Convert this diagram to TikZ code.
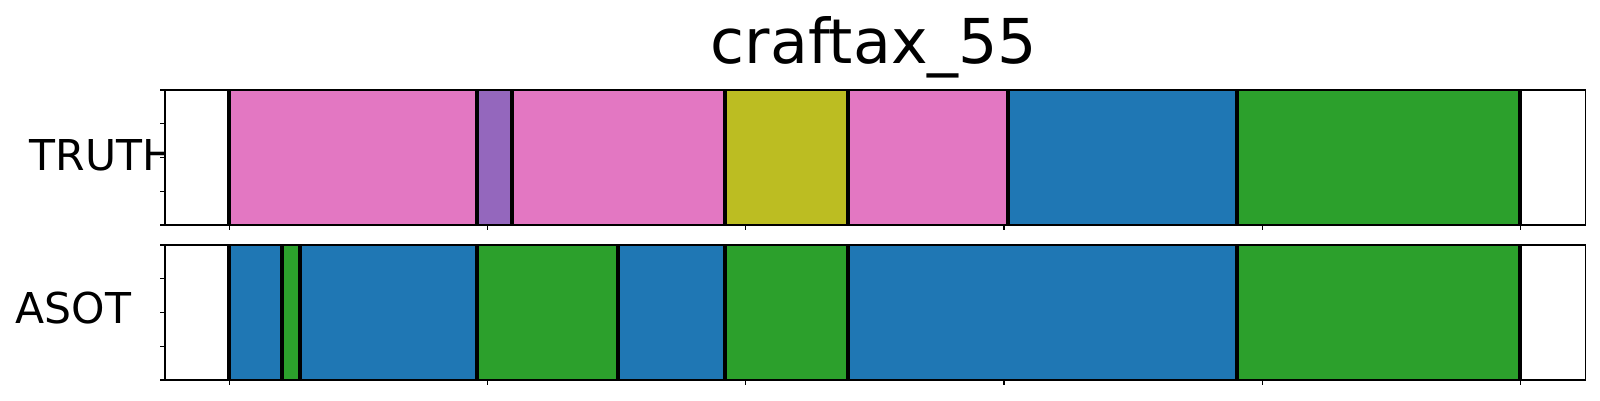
\documentclass[tikz,border=0pt]{standalone}
\usepackage{fontspec}
\setmainfont{DejaVu Sans}

\definecolor{tabpink}{HTML}{E377C2}
\definecolor{tabpurple}{HTML}{9467BD}
\definecolor{tabolive}{HTML}{BCBD22}
\definecolor{tabblue}{HTML}{1F77B4}
\definecolor{tabgreen}{HTML}{2CA02C}

\tikzset{
  heading/.style={font=\fontsize{17.6pt}{20pt}\selectfont, inner sep=0pt, anchor=base},
  rowlabel/.style={font=\fontsize{12.1pt}{14pt}\selectfont, inner sep=0pt, anchor=base west},
  bound/.style={line width=0.04cm, black},
  frame/.style={line width=0.015cm, black},
  tickmark/.style={line width=0.012cm, black},
}

\begin{document}
\begin{tikzpicture}[x=0.1mm,y=-0.1mm]

      \useasboundingbox (0,0) rectangle (1600,400);

      \node[heading]  (title) at (874,63)  {craftax\_55};
      \node[rowlabel] (truth) at (29,170)  {TRUTH};
      \node[rowlabel] (asot)  at (15,323)  {ASOT};

      % axes backgrounds
      \fill[white] (165,90)  rectangle (1585.7,225);
      \fill[white] (165,245) rectangle (1585.7,380);

      % TRUTH segments
      \fill[tabpink]   (228.5,90)  rectangle (476.8,225);
      \fill[tabpurple] (476.8,90)  rectangle (512,225);
      \fill[tabpink]   (512,90)    rectangle (724.7,225);
      \fill[tabolive]  (724.7,90)  rectangle (847.8,225);
      \fill[tabpink]   (847.8,90)  rectangle (1007.8,225);
      \fill[tabblue]   (1007.8,90) rectangle (1237,225);
      \fill[tabgreen]  (1237,90)   rectangle (1520.3,225);

      % ASOT segments
      \fill[tabblue]   (228.5,245) rectangle (281.7,380);
      \fill[tabgreen]  (281.7,245) rectangle (300,380);
      \fill[tabblue]   (300,245)   rectangle (476.8,380);
      \fill[tabgreen]  (476.8,245) rectangle (618,380);
      \fill[tabblue]   (618,245)   rectangle (724.7,380);
      \fill[tabgreen]  (724.7,245) rectangle (847.8,380);
      \fill[tabblue]   (847.8,245) rectangle (1237,380);
      \fill[tabgreen]  (1237,245)  rectangle (1520.3,380);

      % boundaries
      \foreach \x in {228.5,476.8,512,724.7,847.8,1007.8,1237,1520.3}
        \draw[bound] (\x,90) -- (\x,225);
      \foreach \x in {228.5,281.7,300,476.8,618,724.7,847.8,1237,1520.3}
        \draw[bound] (\x,245) -- (\x,380);

      % frames and ticks
      \draw[frame] (165,90)  rectangle (1585.7,225);
      \draw[frame] (165,245) rectangle (1585.7,380);
      \foreach \y in {90,123.75,157.5,191.25,225}
        \draw[tickmark] (165,\y) -- (160,\y) (165,\y+155) -- (160,\y+155);
      \foreach \x in {229.3,487.5,745.7,1003.9,1262.1,1520.3}
        \draw[tickmark] (\x,225) -- (\x,230) (\x,380) -- (\x,385);

    \end{tikzpicture}
\end{document}
